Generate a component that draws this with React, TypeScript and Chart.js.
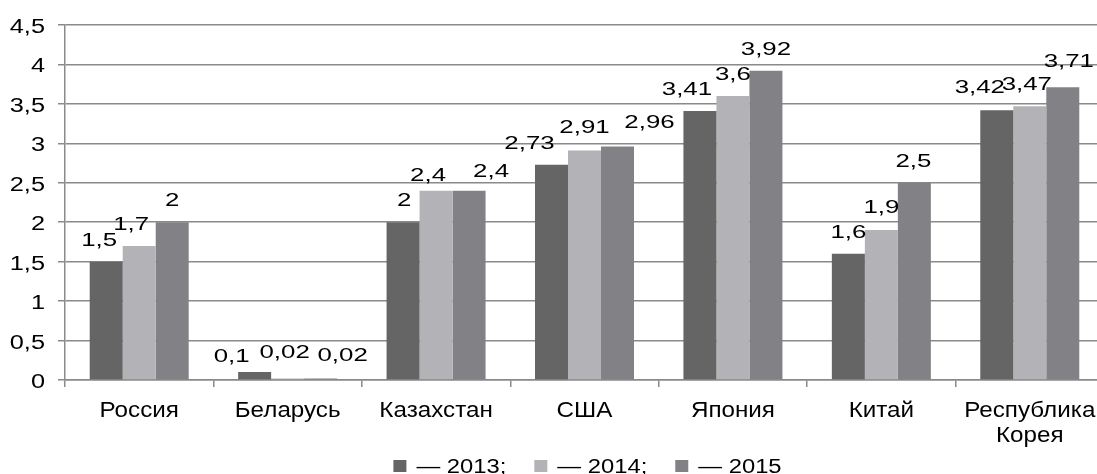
import React, { useEffect, useRef } from "react";
import { Chart, registerables } from "chart.js";

Chart.register(...registerables);

// ---------- data ----------
const categories: string[][] = [
  ["Россия"],
  ["Беларусь"],
  ["Казахстан"],
  ["США"],
  ["Япония"],
  ["Китай"],
  ["Республика", "Корея"],
];
const seriesNames = ["2013", "2014", "2015"];
const legendTexts = ["— 2013;", "— 2014;", "— 2015"];
const values2013 = [1.5, 0.1, 2, 2.73, 3.41, 1.6, 3.42];
const values2014 = [1.7, 0.02, 2.4, 2.91, 3.6, 1.9, 3.47];
const values2015 = [2, 0.02, 2.4, 2.96, 3.92, 2.5, 3.71];
const yTickValues = [0, 0.5, 1, 1.5, 2, 2.5, 3, 3.5, 4, 4.5];

// ---------- styles ----------
const seriesColors = ["#656566", "#b3b3b7", "#828286"];
const gridColor = "#8a8a8a";
const FONT = '"Liberation Sans", Arial, sans-serif';
const NUM_SX = 1.36; // horizontal stretch of the numeric labels
const TICK_SX = 1.3;
const LEGEND_SX = 1.22;
const CAT_SX = 1.1;
// data label nudges [dx, dy] in px, per series and category
const labelNudges: number[][][] = [
  [[-7, 0], [-23, 6], [1, 0], [-22, 0], [-13, 0], [0, 0], [-17, -1]],
  [[-8, 0], [-3, -4], [-8, 6], [0, -1], [0, 0], [0, -1], [-3, 0]],
  [[0, 0], [22, -1], [22, 2], [32, -2], [0, 0], [-1, 0], [6, -4]],
];

const fmt = (v: number) => String(v).replace(".", ",");

function stretchedText(
  ctx: CanvasRenderingContext2D,
  text: string,
  x: number,
  y: number,
  sx: number,
  size: number,
  align: CanvasTextAlign
) {
  ctx.save();
  ctx.font = `${size}px ${FONT}`;
  ctx.fillStyle = "#000";
  ctx.textAlign = align;
  ctx.textBaseline = "alphabetic";
  ctx.translate(x, y);
  ctx.scale(sx, 1);
  ctx.fillText(text, 0, 0);
  ctx.restore();
}

const textPlugin = {
  id: "customTexts",
  afterDatasetsDraw(chart: any) {
    const ctx: CanvasRenderingContext2D = chart.ctx;
    const area = chart.chartArea;
    // data labels
    chart.data.datasets.forEach((ds: any, di: number) => {
      const meta = chart.getDatasetMeta(di);
      meta.data.forEach((bar: any, i: number) => {
        const [dx, dy] = labelNudges[di][i];
        stretchedText(ctx, fmt(ds.data[i]), bar.x + dx, bar.y - 16 + dy, NUM_SX, 19, "center");
      });
    });
    // y tick labels
    const ys = chart.scales.y;
    yTickValues.forEach((t) => {
      stretchedText(ctx, fmt(t), ys.left + 45, ys.getPixelForValue(t) + 8, TICK_SX, 19.5, "right");
    });
    // x category labels
    const xs = chart.scales.x;
    categories.forEach((lines, i) => {
      const x = xs.getPixelForTick(i);
      lines.forEach((line, li) => {
        stretchedText(ctx, line, x, area.bottom + 37 + li * 24.5, CAT_SX, 22, "center");
      });
    });
    // legend
    ctx.save();
    ctx.font = `19.5px ${FONT}`;
    const boxW = 13, boxH = 12, boxGap = 10, itemGap = 28;
    const widths = legendTexts.map((t) => ctx.measureText(t).width * LEGEND_SX);
    const total = widths.reduce((a, w) => a + boxW + boxGap + w, 0) + itemGap * (legendTexts.length - 1);
    const cx = (area.left + area.right) / 2 + 3;
    let x = cx - total / 2;
    const boxTop = chart.height - 14;
    const base = chart.height - 1;
    legendTexts.forEach((t, i) => {
      ctx.fillStyle = seriesColors[i];
      ctx.fillRect(x, boxTop, boxW, boxH);
      stretchedText(ctx, t, x + boxW + boxGap, base, LEGEND_SX, 19.5, "left");
      x += boxW + boxGap + widths[i] + itemGap;
    });
    ctx.restore();
  },
};

export default function App() {
  const ref = useRef<HTMLCanvasElement | null>(null);
  useEffect(() => {
    if (!ref.current) return;
    const chart = new Chart(ref.current, {
      type: "bar",
      data: {
        labels: categories,
        datasets: [values2013, values2014, values2015].map((vals, i) => ({
          label: seriesNames[i],
          data: vals,
          backgroundColor: seriesColors[i],
          borderWidth: 0,
          categoryPercentage: 0.667,
          barPercentage: 1.0,
        })),
      },
      options: {
        animation: false,
        responsive: false,
        devicePixelRatio: 1,
        layout: { padding: { top: 25, right: 6, left: 0, bottom: 0 } },
        plugins: { legend: { display: false }, tooltip: { enabled: false } },
        scales: {
          x: {
            offset: true,
            grid: {
              offset: true,
              drawOnChartArea: false,
              drawTicks: true,
              tickLength: 7,
              color: gridColor,
              lineWidth: 1.5,
            },
            border: { display: true, color: gridColor, width: 1.5 },
            ticks: { autoSkip: false, maxRotation: 0, minRotation: 0, display: false },
            afterFit: (s: any) => {
              s.height = 94;
            },
          },
          y: {
            min: 0,
            max: 4.5,
            ticks: { stepSize: 0.5, display: false },
            grid: { color: gridColor, lineWidth: 1.5, tickLength: 7, drawTicks: true },
            border: { display: true, color: gridColor, width: 1.5 },
            afterFit: (s: any) => {
              s.width = 65;
            },
          },
        },
      },
      plugins: [textPlugin],
    } as any);
    return () => chart.destroy();
  }, []);
  return (
    <div
      style={{
        position: "fixed",
        left: 0,
        top: 0,
        width: 1097,
        height: 474,
        overflow: "hidden",
        background: "#fff",
      }}
    >
      <canvas ref={ref} width={1110} height={474} style={{ width: 1110, height: 474, display: "block" }} />
    </div>
  );
}
